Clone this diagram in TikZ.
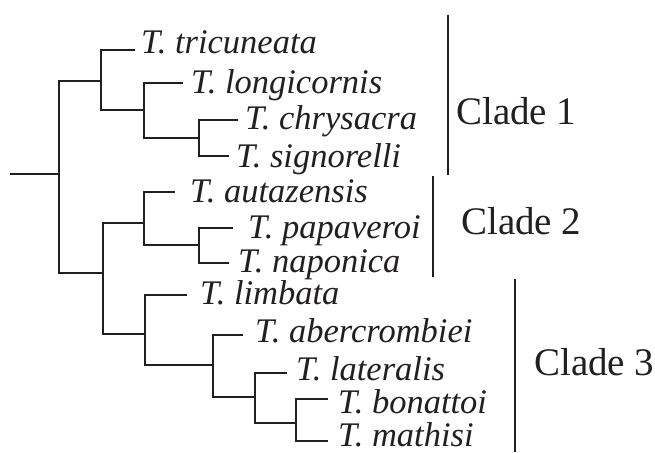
\documentclass[tikz,border=0pt]{standalone}
\usepackage{fontspec}
\setmainfont{Liberation Serif}
\definecolor{ink}{HTML}{231F20}

\begin{document}
\begin{tikzpicture}[x=1pt, y=-1pt, branch/.style={draw=ink, line width=1.6pt}, bar/.style={draw=ink, line width=1.8pt}, taxon/.style={anchor=base west, inner sep=0pt, text=ink, font=\fontsize{34.5}{37}\selectfont\itshape}, clade/.style={anchor=base west, inner sep=0pt, text=ink, font=\fontsize{39}{42}\selectfont}]
\useasboundingbox (0,0) rectangle (655,452);
% internal nodes of the tree
\coordinate (stub) at (10,174); \coordinate (n0) at (59,174);
\coordinate (n1) at (101,81); \coordinate (n2) at (144,110); \coordinate (n3) at (199,138);
\coordinate (n4) at (103,273); \coordinate (n5) at (144,223); \coordinate (n6) at (199,245);
\coordinate (n7) at (145,334); \coordinate (n8) at (213,365); \coordinate (n9) at (255,397); \coordinate (n10) at (296,423);
% tips
\coordinate (tri) at (135,50); \coordinate (lon) at (183,83); \coordinate (chr) at (238,120); \coordinate (sig) at (229,156);
\coordinate (aut) at (175,192); \coordinate (pap) at (233,228); \coordinate (nap) at (229,263);
\coordinate (lim) at (187,295); \coordinate (abe) at (243,335); \coordinate (lat) at (287,373); \coordinate (bon) at (328,399); \coordinate (mat) at (328,441);
\node[taxon] (tri-l) at (141,54) {T. tricuneata};
\node[taxon] (lon-l) at (191,93) {T. longicornis};
\node[taxon] (chr-l) at (245,129) {T. chrysacra};
\node[taxon] (sig-l) at (236,167) {T. signorelli};
\node[taxon] (aut-l) at (190,202) {T. autazensis};
\node[taxon] (pap-l) at (248,238) {T. papaveroi};
\node[taxon] (nap-l) at (238,272) {T. naponica};
\node[taxon] (lim-l) at (200,304) {T. limbata};
\node[taxon] (abe-l) at (255,342) {T. abercrombiei};
\node[taxon] (lat-l) at (296,380) {T. lateralis};
\node[taxon] (bon-l) at (338,413) {T. bonattoi};
\node[taxon] (mat-l) at (338,446) {T. mathisi};
% clade bars
\coordinate (b1a) at (448,15); \coordinate (b1b) at (448,175);
\coordinate (b2a) at (433,176); \coordinate (b2b) at (433,277);
\coordinate (b3a) at (515,279); \coordinate (b3b) at (515,452);
\node[clade] (c1) at (456,124) {Clade 1};
\node[clade] (c2) at (461,234) {Clade 2};
\node[clade] (c3) at (534,375) {Clade 3};
\draw[branch] (stub) -- (n0); \draw[branch] (n0) |- (n1); \draw[branch] (n0) |- (n4);
\draw[branch] (n1) |- (tri); \draw[branch] (n1) |- (n2); \draw[branch] (n2) |- (lon); \draw[branch] (n2) |- (n3); \draw[branch] (n3) |- (chr); \draw[branch] (n3) |- (sig);
\draw[branch] (n4) |- (n5); \draw[branch] (n4) |- (n7); \draw[branch] (n5) |- (aut); \draw[branch] (n5) |- (n6); \draw[branch] (n6) |- (pap); \draw[branch] (n6) |- (nap);
\draw[branch] (n7) |- (lim); \draw[branch] (n7) |- (n8); \draw[branch] (n8) |- (abe); \draw[branch] (n8) |- (n9); \draw[branch] (n9) |- (lat); \draw[branch] (n9) |- (n10); \draw[branch] (n10) |- (bon); \draw[branch] (n10) |- (mat);
\draw[bar] (b1a) -- (b1b); \draw[bar] (b2a) -- (b2b); \draw[bar] (b3a) -- (b3b);
\end{tikzpicture}
\end{document}
